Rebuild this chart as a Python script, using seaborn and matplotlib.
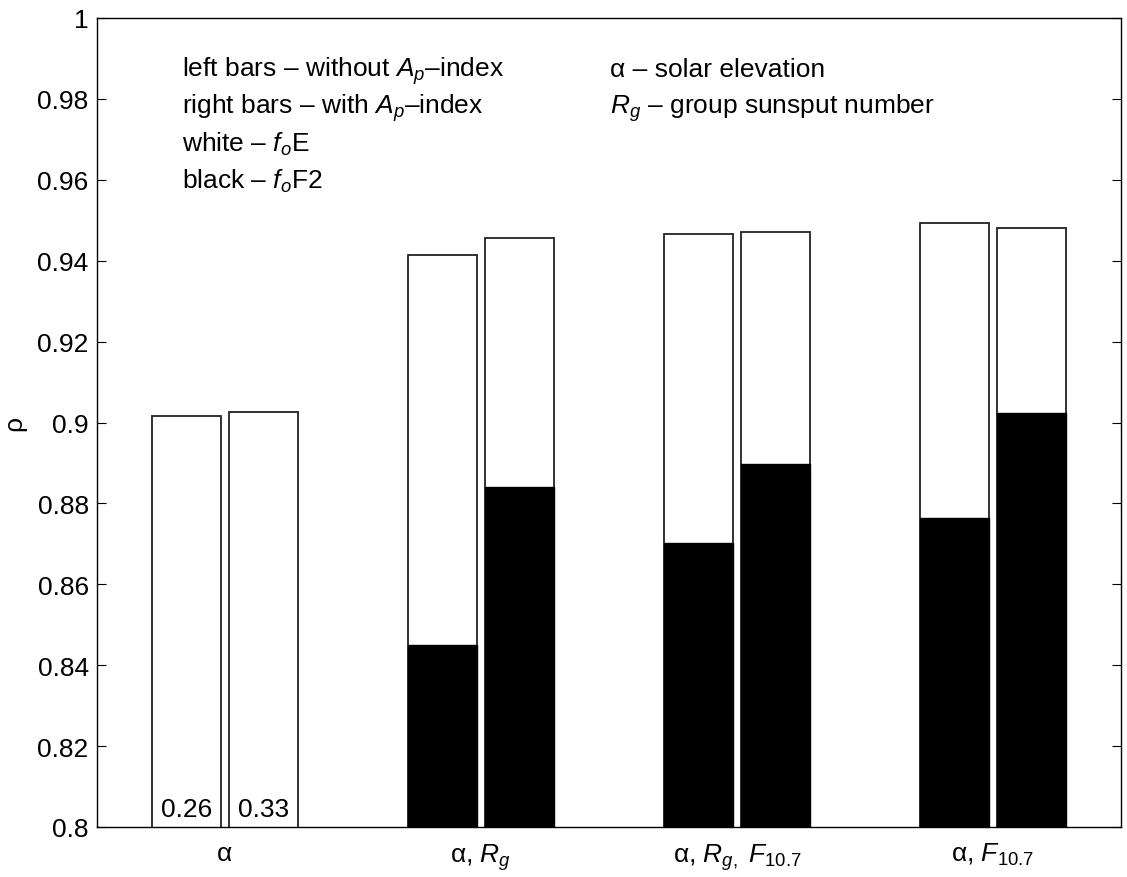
import numpy as np
import pandas as pd
import matplotlib
matplotlib.use("Agg")
import matplotlib.pyplot as plt
from matplotlib.ticker import FuncFormatter, MultipleLocator
import seaborn as sns

# predictor sets along the x axis
groups = ["α", r"α, $R_g$", r"α, $R_{g,}$ $F_{10.7}$", r"α, $F_{10.7}$"]
sides = ["without Ap", "with Ap"]

# correlation coefficient rho for foE (white) and foF2 (black)
foE_without = [0.9015, 0.9413, 0.9467, 0.9494]
foE_with = [0.9025, 0.9455, 0.9470, 0.9480]
foF2_without = [0.26, 0.845, 0.8703, 0.8763]
foF2_with = [0.33, 0.884, 0.8897, 0.9023]

df = pd.DataFrame({
    "group": groups * 2,
    "side": [sides[0]] * 4 + [sides[1]] * 4,
    "foE": foE_without + foE_with,
    "foF2": foF2_without + foF2_with,
})

sns.set_theme(style="white")
plt.rcParams["font.family"] = ["Liberation Sans", "DejaVu Sans"]
plt.rcParams["mathtext.fontset"] = "custom"
plt.rcParams["mathtext.rm"] = "Liberation Sans"
plt.rcParams["mathtext.it"] = "Liberation Sans:italic"
plt.rcParams["mathtext.bf"] = "Liberation Sans:bold"
plt.rcParams["text.color"] = "black"
plt.rcParams["axes.labelcolor"] = "black"

fig = plt.figure(figsize=(11.27, 8.78), dpi=100)
ax = fig.add_axes([97 / 1127, 1 - 828 / 878, (1121 - 97) / 1127, (828 - 19) / 878])

bar_kw = dict(x="group", hue="side", hue_order=sides, order=groups,
              width=0.60, gap=0.1, legend=False, errorbar=None, ax=ax)

# white foE bars first, black foF2 bars on top
sns.barplot(data=df, y="foE", palette=["white", "white"], edgecolor="#222222",
            linewidth=1.3, **bar_kw)
sns.barplot(data=df, y="foF2", palette=["black", "black"], edgecolor="black",
            linewidth=1.0, **bar_kw)

ax.set_ylim(0.8, 1.0)
ax.set_xlim(-0.5, 3.5)
ax.yaxis.set_major_locator(MultipleLocator(0.02))
ax.yaxis.set_major_formatter(FuncFormatter(lambda v, _: f"{v:.2f}".rstrip("0").rstrip(".")))

for s in ax.spines.values():
    s.set_visible(True)
    s.set_color("black")
    s.set_linewidth(1.0)

ax.tick_params(axis="y", direction="in", length=6.5, width=0.8, left=True, right=True,
               labelsize=19, pad=6, colors="black")
ax.tick_params(axis="x", length=0, labelsize=19, pad=10, colors="black")
ax.set_xlabel("")
ax.set_ylabel("ρ", fontsize=19, labelpad=8, color="black")

# values of the foF2 bars that fall below the axis range
bar_centers = {sides[0]: -0.15, sides[1]: 0.15}
ax.text(bar_centers[sides[0]], 0.8015, f"{foF2_without[0]:.2f}", ha="center", va="bottom",
        fontsize=19, color="black")
ax.text(bar_centers[sides[1]], 0.8015, f"{foF2_with[0]:.2f}", ha="center", va="bottom",
        fontsize=19, color="black")

# annotation blocks
left_lines = [
    r"left bars – without $A_p$–index",
    r"right bars – with $A_p$–index",
    r"white – $f_o$E",
    r"black – $f_o$F2",
]
base = [0.9857, 0.9765, 0.9671, 0.9580]
for txt, y in zip(left_lines, base):
    ax.text(-0.168, y, txt, fontsize=19, ha="left", va="baseline", color="black")

right_lines = [
    "α – solar elevation",
    r"$R_g$ – group sunsput number",
]
for txt, y in zip(right_lines, base[:2]):
    ax.text(1.504, y, txt, fontsize=19, ha="left", va="baseline", color="black")

fig.savefig("out.png", dpi=100)
